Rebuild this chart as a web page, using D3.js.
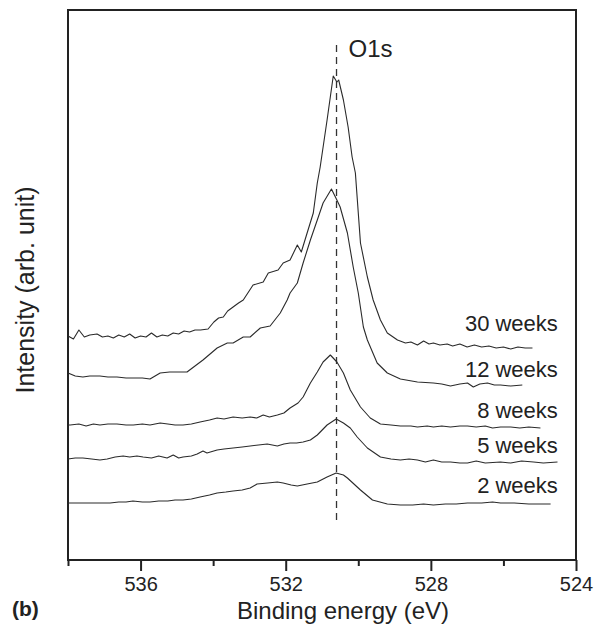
<!DOCTYPE html>
<html>
<head>
<meta charset="utf-8">
<script src="https://cdn.jsdelivr.net/npm/d3@7"></script>
<style>
  html, body { margin: 0; padding: 0; background: #fff; }
  svg { display: block; }
  text { font-family: "Liberation Sans", Arial, sans-serif; fill: #222; }
</style>
</head>
<body>
<svg id="chart" width="605" height="628"></svg>
<script>
// ---------- data (binding energy eV, intensity arb. unit) ----------
const week30 = [[538.00,224],[537.85,221],[537.70,230],[537.55,223],[537.40,225],[537.20,226],[537.05,223],[536.90,224],[536.75,222],[536.60,225],[536.45,223],[536.30,226],[536.15,222],[536.00,224],[535.85,223],[535.70,227],[535.55,223],[535.40,225],[535.25,224],[535.10,227],[534.95,226],[534.80,229],[534.65,228],[534.50,230],[534.35,230],[534.14,231],[533.98,238],[533.85,242],[533.72,243],[533.60,249],[533.45,253],[533.30,257],[533.17,260],[532.90,275],[532.62,278],[532.48,287],[532.21,290],[532.07,297],[531.88,300],[531.68,315],[531.57,308],[531.41,327],[531.24,347],[531.13,377],[531.05,393],[530.86,440],[530.69,484],[530.59,478],[530.54,480],[530.41,460],[530.28,433],[530.17,403],[530.08,387],[529.94,317],[529.75,283],[529.59,260],[529.39,240],[529.20,227],[528.92,220],[528.70,217],[528.55,218],[528.37,215],[528.20,219],[528.05,216],[527.93,217],[527.75,215],[527.55,216],[527.40,214],[527.20,216],[527.00,213],[526.80,215],[526.60,213],[526.40,214],[526.20,212],[526.00,213],[525.80,211],[525.60,213],[525.40,212],[525.20,212]];
const week12 = [[538.00,187],[537.80,184],[537.59,183],[537.40,184],[537.12,184],[536.90,183],[536.65,183],[536.40,182],[536.21,182],[535.95,182],[535.74,181],[535.46,187],[535.20,188],[534.83,188],[534.72,188],[534.28,200],[533.89,212],[533.61,217],[533.45,217],[533.17,223],[532.98,223],[532.70,232],[532.43,234],[532.15,247],[531.96,260],[531.88,267],[531.68,277],[531.52,297],[531.32,320],[531.13,340],[530.97,357],[530.74,371],[530.59,360],[530.50,353],[530.30,327],[530.14,293],[530.00,267],[529.86,233],[529.75,220],[529.48,197],[529.20,187],[528.84,181],[528.37,178],[527.93,177],[527.70,176],[527.46,174],[527.20,176],[526.99,177],[526.83,173],[526.65,176],[526.44,177],[526.25,175],[526.08,175],[525.80,174],[525.48,175]];
const week8 = [[538.00,135],[537.94,135],[537.70,136],[537.50,134],[537.30,136],[537.12,135],[536.90,136],[536.65,136],[536.40,135],[536.20,135],[535.95,136],[535.74,135],[535.60,136],[535.46,137],[535.25,136],[535.05,135],[534.83,135],[534.60,136],[534.36,138],[534.10,140],[533.89,142],[533.70,141],[533.45,143],[533.20,142],[532.98,143],[532.80,142],[532.62,145],[532.45,143],[532.23,145],[532.05,147],[531.88,152],[531.66,157],[531.52,163],[531.32,177],[531.13,188],[530.97,198],[530.77,205],[530.59,198],[530.41,187],[530.22,170],[529.94,153],[529.67,142],[529.39,136],[529.10,135],[528.84,134],[528.55,134],[528.37,133],[528.10,134],[527.93,133],[527.70,134],[527.46,133],[527.20,134],[526.99,134],[526.75,133],[526.50,134],[526.30,132],[526.08,133],[525.80,133],[525.55,132],[525.30,133],[524.98,132]];
const week5 = [[538.00,101],[537.80,102],[537.59,102],[537.35,101],[537.12,100],[536.92,101],[536.70,103],[536.48,104],[536.30,103],[536.10,104],[535.93,103],[535.70,102],[535.50,104],[535.27,102],[535.10,105],[534.95,102],[534.83,103],[534.60,104],[534.44,106],[534.28,109],[534.17,107],[533.89,110],[533.70,111],[533.45,112],[533.20,113],[532.98,114],[532.75,115],[532.51,116],[532.23,114],[532.05,116],[531.88,117],[531.70,117],[531.52,118],[531.32,120],[531.13,125],[530.86,135],[530.61,141],[530.41,137],[530.22,132],[530.03,123],[529.75,112],[529.39,103],[529.10,101],[528.84,100],[528.60,101],[528.37,100],[528.15,98],[527.93,100],[527.70,98],[527.46,98],[527.20,97],[526.99,97],[526.75,99],[526.50,97],[526.08,98],[525.80,97],[525.50,99],[525.17,98],[524.90,97],[524.51,98]];
const week2 = [[538.00,57],[537.70,57],[537.40,57],[537.12,57],[536.84,57],[536.60,58],[536.40,58],[536.21,59],[535.95,58],[535.74,58],[535.50,59],[535.25,59],[535.05,60],[534.83,60],[534.60,61],[534.36,63],[534.10,65],[533.89,67],[533.65,68],[533.45,69],[533.20,70],[532.98,72],[532.79,76],[532.50,77],[532.23,78],[532.07,77],[531.85,75],[531.68,74],[531.41,76],[531.13,78],[530.86,83],[530.61,87],[530.41,85],[530.30,82],[529.94,70],[529.61,60],[529.20,56],[528.84,55],[528.50,55],[528.20,56],[527.93,55],[527.60,56],[527.30,56],[526.99,57],[526.60,57],[526.30,58],[526.08,57],[525.70,57],[525.30,56],[524.70,56]];

const seriesNames = ["30 weeks", "12 weeks", "8 weeks", "5 weeks", "2 weeks"];
const seriesData = [week30, week12, week8, week5, week2];
const labelLevels = [229, 183, 142, 107, 67];   // label baseline intensity
const labelEnergy = 524.5;

const xDomain = [538, 524];
const majorTicks = [536, 532, 528, 524];
const minorTicks = [538, 534, 530, 526];
const peakEnergy = 530.6;
const peakRange = [40, 517];
const peakLabel = "O1s";

// ---------- layout ----------
const svg = d3.select("#chart");
const L = 68, R = 576, T = 10, B = 560;
const x = d3.scaleLinear().domain(xDomain).range([L, R]);
const y = d3.scaleLinear().domain([0, 550]).range([B, T]);

// frame
svg.append("rect")
  .attr("x", L).attr("y", T).attr("width", R - L).attr("height", B - T)
  .attr("fill", "none").attr("stroke", "#222").attr("stroke-width", 2);

// axes
const gx = svg.append("g").attr("transform", `translate(0,${B})`);
gx.call(d3.axisBottom(x).tickValues(majorTicks).tickSize(11).tickFormat(d3.format("d")))
  .call(g => g.select(".domain").remove())
  .call(g => g.selectAll("line").attr("stroke", "#222").attr("stroke-width", 2))
  .call(g => g.selectAll("text").attr("font-size", 20).attr("dy", null).attr("y", 31)
      .style("font-family", '"Liberation Sans", Arial, sans-serif').attr("fill", "#222"));
const gxm = svg.append("g").attr("transform", `translate(0,${B})`);
gxm.call(d3.axisBottom(x).tickValues(minorTicks).tickSize(6).tickFormat(""))
  .call(g => g.select(".domain").remove())
  .call(g => g.selectAll("line").attr("stroke", "#222").attr("stroke-width", 2));

// axis titles
svg.append("text").attr("x", 343).attr("y", 619).attr("text-anchor", "middle")
  .attr("font-size", 24).text("Binding energy (eV)");
svg.append("text").attr("transform", "translate(34,290) rotate(-90)")
  .attr("text-anchor", "middle").attr("font-size", 25).text("Intensity (arb. unit)");
svg.append("text").attr("x", 12).attr("y", 616).attr("font-size", 21)
  .attr("font-weight", "bold").text("(b)");

// dashed peak line
svg.append("line")
  .attr("x1", x(peakEnergy)).attr("x2", x(peakEnergy))
  .attr("y1", y(peakRange[0])).attr("y2", y(peakRange[1]))
  .attr("stroke", "#333").attr("stroke-width", 1.3).attr("stroke-dasharray", "7,5");
svg.append("text").attr("x", x(peakEnergy) + 12).attr("y", 57)
  .attr("font-size", 24).text(peakLabel);

// curves
const line = d3.line().x(d => x(d[0])).y(d => y(d[1]));
svg.append("g").selectAll("path").data(seriesData).join("path")
  .attr("d", line).attr("fill", "none").attr("stroke", "#2a2a2a").attr("stroke-width", 1.1)
  .attr("stroke-linejoin", "round");

// labels
svg.append("g").selectAll("text").data(seriesNames).join("text")
  .attr("x", x(labelEnergy)).attr("y", (d, i) => y(labelLevels[i]))
  .attr("text-anchor", "end").attr("font-size", 22).text(d => d);
</script>
</body>
</html>
